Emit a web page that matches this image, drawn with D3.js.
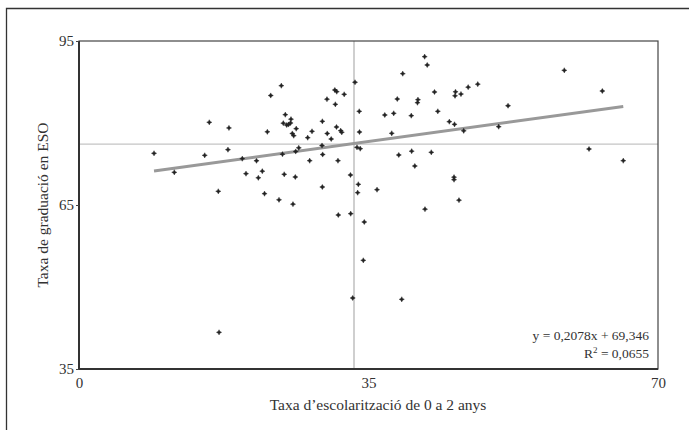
<!DOCTYPE html>
<html><head><meta charset="utf-8">
<script src="https://cdn.jsdelivr.net/npm/d3@7"></script>
<style>
html,body{margin:0;padding:0;background:#fff;}
svg text{font-family:"Liberation Serif","Times New Roman",serif;fill:#333;}
</style></head>
<body><div id="chart"></div>
<script>
// Data: x = Taxa d'escolarització 0-2 anys, y = Taxa de graduació en ESO
const xValues = [9.07,11.52,15.20,15.75,16.84,16.93,18.01,18.13,19.74,20.19,21.46,21.68,22.16,22.43,22.77,23.18,24.18,24.46,24.60,24.70,24.81,24.94,25.11,25.33,25.57,25.63,25.79,25.96,25.87,26.15,26.20,26.26,26.57,27.65,27.89,28.17,29.38,29.42,29.42,29.46,29.98,30.01,30.49,30.93,31.16,30.99,31.13,31.31,31.35,31.64,31.77,32.06,32.82,32.85,33.09,33.37,33.61,34.00,33.77,33.69,33.88,33.91,34.37,34.49,36.03,36.97,37.81,38.05,38.48,38.66,39.02,39.14,40.17,40.22,40.60,40.98,40.92,41.79,41.83,42.10,42.59,42.98,43.38,44.77,45.40,45.34,45.34,45.52,45.46,45.94,46.18,46.51,47.05,48.21,50.74,51.87,58.67,61.66,63.27,65.80];
const yValues = [74.46,70.98,74.09,80.13,67.51,41.71,75.12,79.09,73.47,70.73,73.09,69.98,71.18,67.07,78.39,85.03,65.95,86.82,74.29,79.96,70.62,81.52,79.63,79.73,80.00,80.70,78.08,77.68,65.15,70.12,74.79,78.96,75.46,77.31,73.10,78.48,75.88,80.31,68.29,74.24,84.35,78.08,77.07,86.04,85.73,83.42,79.27,73.10,63.17,78.59,78.30,85.25,70.49,63.41,47.99,87.45,75.55,75.30,68.79,67.25,82.14,78.35,54.88,61.89,67.80,81.46,78.12,81.77,84.39,74.15,47.75,89.02,81.34,74.84,72.13,84.26,83.71,92.13,64.23,90.61,74.64,85.67,82.14,80.24,79.76,70.09,69.63,85.71,84.98,65.88,85.30,78.57,86.55,87.10,79.32,83.16,89.64,75.24,85.85,73.10];
const xTicks = [0, 35, 70];
const yTicks = [35, 65, 95];
const slope = 0.2078;
const intercept = 69.346;
const equationLabel = "y = 0,2078x + 69,346";
const r2Value = "0,0655";
const xTitle = "Taxa d\u2019escolarització de 0 a 2 anys";
const yTitle = "Taxa de graduació en ESO";

const points = xValues.map((x, i) => ({x, y: yValues[i]}));

const W = 689, H = 430;
const m = {left: 79, right: 31, top: 41, bottom: 61};
const svg = d3.select("#chart").append("svg").attr("width", W).attr("height", H);

// outer frame (left and top edges visible)
svg.append("path").attr("d", `M6.5,${H} V8.5 H${W}`).attr("fill","none").attr("stroke","#333").attr("stroke-width",1.3);

const x = d3.scaleLinear().domain([0,70]).range([m.left, W - m.right]);
const y = d3.scaleLinear().domain([35,95]).range([H - m.bottom, m.top]);

// mean reference lines
const mx = d3.mean(points, d => d.x), my = d3.mean(points, d => d.y);
svg.append("line").attr("x1", x(mx)).attr("x2", x(mx)).attr("y1", y(95)).attr("y2", y(35))
  .attr("stroke","#cfcfcf").attr("stroke-width",2);
svg.append("line").attr("x1", x(0)).attr("x2", x(70)).attr("y1", y(my)).attr("y2", y(my))
  .attr("stroke","#c4c4c4").attr("stroke-width",1.2);

// plot box
svg.append("rect").attr("x", x(0)).attr("y", y(95)).attr("width", x(70)-x(0)).attr("height", y(35)-y(95))
  .attr("fill","none").attr("stroke","#444").attr("stroke-width",1.2);
svg.append("path").attr("d", `M${x(0)},${y(95)} V${y(35)} H${x(70)}`).attr("fill","none").attr("stroke","#333").attr("stroke-width",2);

// axes
const yAxis = svg.append("g").attr("transform", `translate(${x(0)},0)`)
  .call(d3.axisLeft(y).tickValues(yTicks).tickSize(3).tickPadding(2));
const xAxis = svg.append("g").attr("transform", `translate(0,${y(35)})`)
  .call(d3.axisBottom(x).tickValues(xTicks).tickSize(0).tickPadding(8));
[yAxis, xAxis].forEach(g => {
  g.select(".domain").remove();
  g.selectAll("line").attr("stroke","#444");
  g.selectAll("text").style("font-family","Liberation Serif, serif").style("font-size","15px").attr("fill","#333");
});

// trend line
const [xmin, xmax] = d3.extent(points, d => d.x);
svg.append("line").attr("x1", x(xmin)).attr("y1", y(slope*xmin+intercept))
  .attr("x2", x(xmax)).attr("y2", y(slope*xmax+intercept))
  .attr("stroke","#999").attr("stroke-width",3);

// points (small four-pointed marker)
const marker = "M0,-2.6L0.9,-0.9L2.6,0L0.9,0.9L0,2.6L-0.9,0.9L-2.6,0L-0.9,-0.9Z";
svg.append("g").selectAll("path").data(points).join("path")
  .attr("transform", d => `translate(${x(d.x)},${y(d.y)})`)
  .attr("d", marker)
  .attr("fill","#222").attr("stroke","#222").attr("stroke-width",0.4);

// titles
svg.append("text").attr("x", 378).attr("y", 410).attr("text-anchor","middle")
  .style("font-size","15.5px").text(xTitle);
svg.append("text").attr("transform", `translate(48,${y(65)}) rotate(-90)`).attr("text-anchor","middle")
  .style("font-size","15.5px").text(yTitle);

// equation
svg.append("text").attr("x", 649).attr("y", 340).attr("text-anchor","end")
  .style("font-size","13.5px").text(equationLabel);
const r2 = svg.append("text").attr("x", 649).attr("y", 358).attr("text-anchor","end").style("font-size","13.5px");
r2.append("tspan").text("R");
r2.append("tspan").attr("dy", -5).style("font-size","9px").text("2");
r2.append("tspan").attr("dy", 5).text(" = " + r2Value);
</script>
</body></html>
